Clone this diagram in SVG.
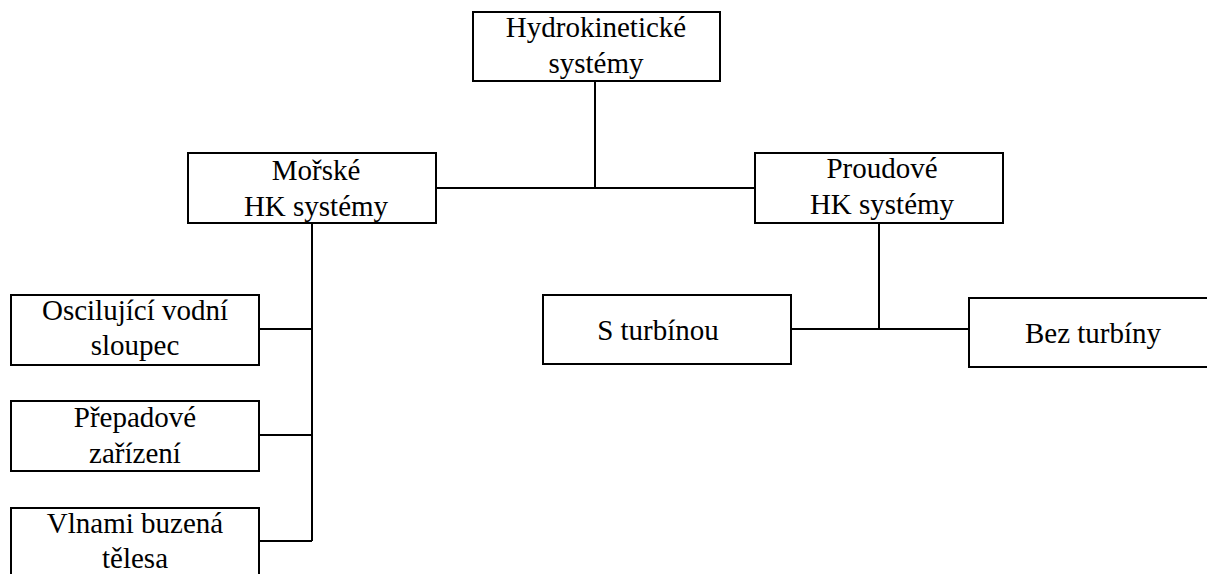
<svg xmlns="http://www.w3.org/2000/svg" width="1207" height="574" viewBox="0 0 1207 574">
<style>
.box{fill:#fff;stroke:#000;stroke-width:2}
.ln{fill:none;stroke:#000;stroke-width:2}
text{font-family:"Liberation Serif","Times New Roman",serif;font-size:29px;fill:#000;text-anchor:middle}
</style>
<rect width="1207" height="574" fill="#fff"/>
<g id="connectors">
<path class="ln" d="M595,81V188M436,188H755"/>
<path class="ln" d="M312,223V541M259,329H312M259,435H312M259,541H312"/>
<path class="ln" d="M879,223V329M791,329H969"/>
</g>
<g id="n-hydro">
<rect class="box" x="473" y="12" width="247" height="69"/>
<text x="596" y="37">Hydrokinetické</text>
<text x="596" y="73">systémy</text>
</g>
<g id="n-morske">
<rect class="box" x="188" y="153" width="248" height="70"/>
<text x="316" y="180">Mořské</text>
<text x="316" y="216">HK systémy</text>
</g>
<g id="n-proudove">
<rect class="box" x="755" y="153" width="248" height="70"/>
<text x="882" y="178">Proudové</text>
<text x="882" y="214">HK systémy</text>
</g>
<g id="n-oscil">
<rect class="box" x="11" y="295" width="248" height="70"/>
<text x="135" y="320">Oscilující vodní</text>
<text x="135" y="355">sloupec</text>
</g>
<g id="n-prepad">
<rect class="box" x="11" y="401" width="248" height="70"/>
<text x="135" y="427">Přepadové</text>
<text x="135" y="463">zařízení</text>
</g>
<g id="n-vlnami">
<rect class="box" x="11" y="508" width="248" height="70"/>
<text x="135" y="533">Vlnami buzená</text>
<text x="135" y="568">tělesa</text>
</g>
<g id="n-sturb">
<rect class="box" x="543" y="295" width="248" height="69"/>
<text x="658" y="340">S turbínou</text>
</g>
<g id="n-bez">
<rect class="box" x="969" y="298" width="248" height="69"/>
<text x="1093" y="343">Bez turbíny</text>
</g>
</svg>
